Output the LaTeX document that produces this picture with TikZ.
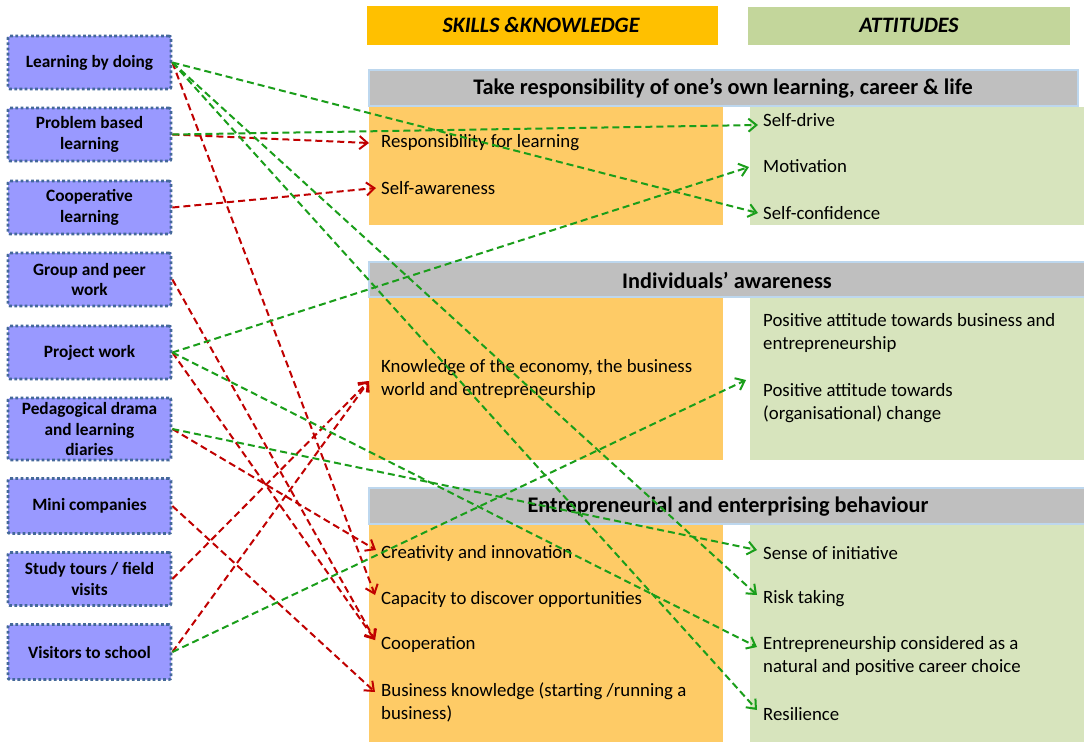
\documentclass[tikz,border=0pt]{standalone}
\usepackage{fontspec}
\setmainfont{Carlito}
\usetikzlibrary{arrows.meta,calc}
\definecolor{lbox}{HTML}{9999FF}
\definecolor{lborder}{HTML}{44689A}
\definecolor{hdorange}{HTML}{FFC000}
\definecolor{hdgreen}{HTML}{C3D69B}
\definecolor{orfill}{HTML}{FECB66}
\definecolor{grfill}{HTML}{D7E4BD}
\definecolor{bandgray}{HTML}{BFBFBF}
\definecolor{glow}{HTML}{BDD7EE}
\definecolor{ared}{HTML}{C00000}
\definecolor{agreen}{HTML}{1A9E1A}
\begin{document}
\begin{tikzpicture}[x=1pt,y=-1pt,
  method/.style={draw=lborder, fill=lbox, line width=2.8pt, dash pattern=on 2.8pt off 2.4pt,
    rounded corners=2pt, minimum width=163pt, minimum height=53pt, align=center,
    font=\fontsize{17.3}{20.5}\selectfont\bfseries, inner sep=0pt},
  item/.style={anchor=west, align=left, inner sep=0pt, font=\fontsize{18.8}{23}\selectfont},
  bandtitle/.style={font=\fontsize{22.3}{24}\selectfont\bfseries, inner sep=0pt},
  headtitle/.style={font=\fontsize{22}{24}\selectfont\bfseries\itshape, inner sep=0pt},
  band/.style={fill=bandgray, draw=glow, line width=2.5pt},
  conn/.style={line width=2pt, dash pattern=on 7pt off 4pt, -{Straight Barb[length=8pt,width=13pt]}},
  rar/.style={conn, draw=ared},
  gar/.style={conn, draw=agreen}
]
\useasboundingbox (0,0) rectangle (1084,742);
\fill[white] (0,0) rectangle (1084,742);

% headers
\fill[hdorange] (367,6) rectangle (718,45);
\fill[hdgreen] (748,7) rectangle (1070,45);
\node[headtitle] (hsk) at (541,25) {SKILLS \&KNOWLEDGE};
\node[headtitle] (hat) at (909,25) {ATTITUDES};

% section 1
\fill[orfill] (369,107) rectangle (723,225);
\fill[grfill] (750,107) rectangle (1084,225);
\path[band] (369,70) rectangle (1078,106);
\node[bandtitle] (b1) at (723,88) {Take responsibility of one’s own learning, career \& life};

% section 2
\fill[orfill] (369,297) rectangle (723,460);
\fill[grfill] (750,297) rectangle (1084,460);
\path[band] (369,262) rectangle (1086,297);
\node[bandtitle] (b2) at (727,280) {Individuals’ awareness};

% section 3
\fill[orfill] (369,524) rectangle (723,742);
\fill[grfill] (750,524) rectangle (1084,742);
\path[band] (369,488) rectangle (1086,524);
\node[bandtitle] (b3) at (728,507) {Entrepreneurial and enterprising behaviour};

% items skills
\node[item] (resp) at (381,143) {Responsibility for learning};
\node[item] (selfaw) at (381,188) {Self-awareness};
\node[item] (know) at (381,379) {Knowledge of the economy, the business\\world and entrepreneurship};
\node[item] (creat) at (381,553) {Creativity and innovation};
\node[item] (capac) at (381,599) {Capacity to discover opportunities};
\node[item] (coopn) at (381,645) {Cooperation};
\node[item] (busk) at (381,702) {Business knowledge (starting /running a\\business)};

% items attitudes
\node[item] (sdrive) at (763,120) {Self-drive};
\node[item] (motiv) at (763,166) {Motivation};
\node[item] (sconf) at (763,213) {Self-confidence};
\node[item] (posbus) at (763,333) {Positive attitude towards business and\\entrepreneurship};
\node[item] (poschg) at (763,403) {Positive attitude towards\\(organisational) change};
\node[item] (sense) at (763,553) {Sense of initiative};
\node[item] (risk) at (763,599) {Risk taking};
\node[item] (entcons) at (763,656) {Entrepreneurship considered as a\\natural and positive career choice};
\node[item] (resil) at (763,714) {Resilience};

% methods
\node[method] (lbd) at (89.5,62.5) {Learning by doing};
\node[method] (pbl) at (89.5,134.5) {Problem based\\learning};
\node[method] (coop) at (89.5,207.5) {Cooperative\\learning};
\node[method] (group) at (89.5,279.5) {Group and peer\\work};
\node[method] (proj) at (89.5,352.5) {Project work};
\node[method, minimum height=62pt] (ped) at (89.5,429) {Pedagogical drama\\and learning\\diaries};
\node[method, minimum height=55pt] (mini) at (89.5,506) {Mini companies};
\node[method] (study) at (89.5,579) {Study tours / field\\visits};
\node[method, minimum height=55pt] (visit) at (89.5,652) {Visitors to school};

% red connectors
\draw[rar] (pbl.east) -- ($(resp.west)+(-12,0)$);
\draw[rar] (coop.east) -- ($(selfaw.west)+(-5,0)$);
\draw[rar] (lbd.east) -- ($(capac.west)+(-6,-4)$);
\draw[rar] (group.east) -- ($(coopn.west)+(-6,-5)$);
\draw[rar] (proj.east) -- ($(coopn.west)+(-6,-5)$);
\draw[rar] (ped.east) -- ($(creat.west)+(-5,-3)$);
\draw[rar] (mini.east) -- ($(busk.west)+(-6,-10)$);
\draw[rar] (study.east) -- ($(know.west)+(-12,2)$);
\draw[rar] (visit.east) -- ($(know.west)+(-12,2)$);

% green connectors
\draw[gar] (lbd.east) -- ($(sconf.west)+(-5,0)$);
\draw[gar] (lbd.east) -- ($(risk.west)+(-6,-4)$);
\draw[gar] (lbd.east) -- ($(resil.west)+(-6,-4)$);
\draw[gar] (pbl.east) -- ($(sdrive.west)+(-5,5)$);
\draw[gar] (proj.east) -- ($(motiv.west)+(-14,1)$);
\draw[gar] (proj.east) -- ($(entcons.west)+(-6,-9)$);
\draw[gar] (ped.east) -- ($(sense.west)+(-6,-3)$);
\draw[gar] (visit.east) -- ($(poschg.west)+(-17,-23)$);
\end{tikzpicture}
\end{document}
